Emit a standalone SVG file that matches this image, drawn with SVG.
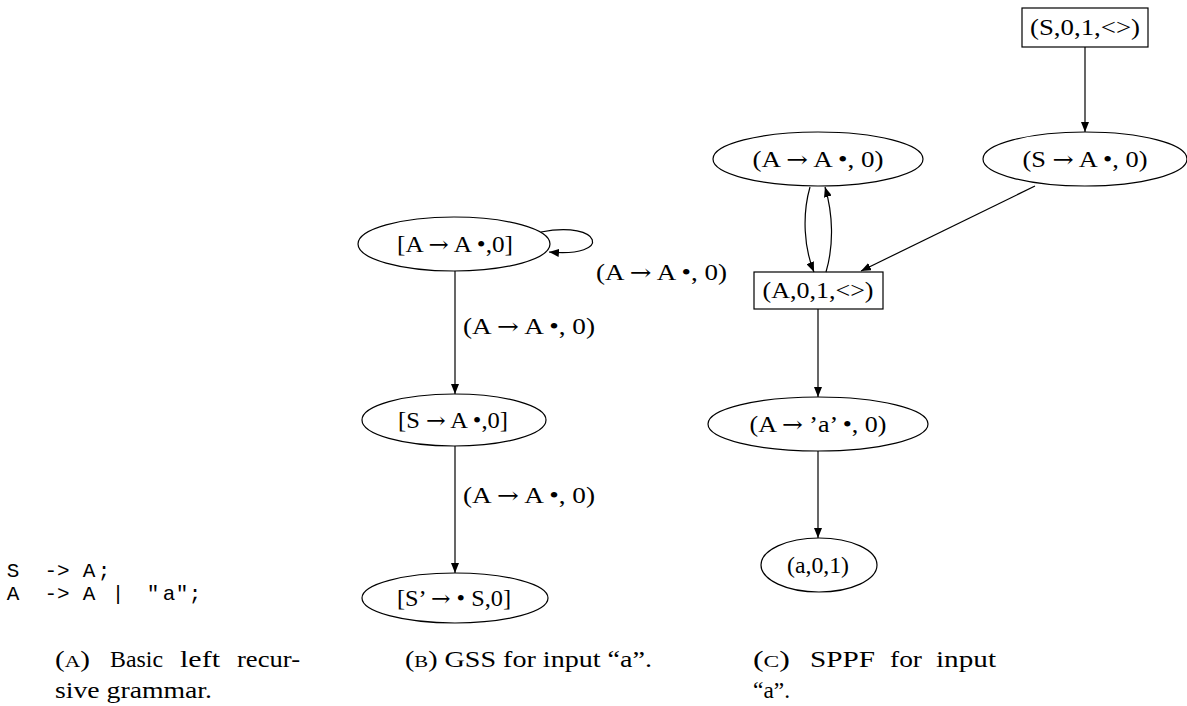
<svg xmlns="http://www.w3.org/2000/svg" width="1187" height="706" viewBox="0 0 1187 706">
  <style>
    .node { fill: #ffffff; stroke: #000000; stroke-width: 1.2; }
    .edge { fill: none; stroke: #000000; stroke-width: 1.2; }
    .lbl { font-family: "Liberation Serif", "DejaVu Serif", serif; font-size: 23px; fill: #000000; }
    .ar { font-family: "DejaVu Serif", "Liberation Serif", serif; font-size: 22px; }
    .mid { text-anchor: middle; }
    .code { font-family: "Liberation Mono", "DejaVu Sans Mono", monospace; font-size: 21px; fill: #000000; text-anchor: middle; }
    .cap { font-family: "Liberation Serif", "DejaVu Serif", serif; font-size: 23px; fill: #000000; }
    .sc { font-size: 17px; }
  </style>
  <defs>
    <marker id="arrow" viewBox="0 0 10 8" refX="10" refY="4" markerWidth="10" markerHeight="8" markerUnits="userSpaceOnUse" orient="auto">
      <path d="M0,0 L10,4 L0,8 Z" fill="#000000"/>
    </marker>
  </defs>

  <rect width="1187" height="706" fill="#ffffff"/>

  <!-- (a) grammar listing -->
  <g id="grammar">
    <text class="code" y="577"><tspan x="13">S</tspan><tspan x="57">-&gt;</tspan><tspan x="89">A</tspan><tspan x="104">;</tspan></text>
    <text class="code" y="600"><tspan x="13">A</tspan><tspan x="57">-&gt;</tspan><tspan x="89">A</tspan><tspan x="118">|</tspan><tspan x="153">"</tspan><tspan x="169">a</tspan><tspan x="182">"</tspan><tspan x="195">;</tspan></text>
  </g>

  <!-- (b) GSS nodes -->
  <g id="gss-a">
    <ellipse class="node" cx="454" cy="244" rx="96" ry="27"/>
    <text class="lbl mid" x="455" y="252" textLength="116" lengthAdjust="spacingAndGlyphs">[A <tspan class="ar">→</tspan> A •,0]</text>
  </g>
  <g id="gss-s">
    <ellipse class="node" cx="454" cy="420" rx="92" ry="26"/>
    <text class="lbl mid" x="453" y="428" textLength="110" lengthAdjust="spacingAndGlyphs">[S <tspan class="ar">→</tspan> A •,0]</text>
  </g>
  <g id="gss-start">
    <ellipse class="node" cx="455" cy="598" rx="93" ry="25"/>
    <text class="lbl mid" x="454" y="606" textLength="114" lengthAdjust="spacingAndGlyphs">[S’ <tspan class="ar">→</tspan> • S,0]</text>
  </g>

  <!-- (c) SPPF nodes -->
  <g id="sppf-s-sym">
    <rect class="node" x="1022" y="8" width="126" height="39"/>
    <text class="lbl mid" x="1085" y="35" textLength="110" lengthAdjust="spacingAndGlyphs">(S,0,1,&lt;&gt;)</text>
  </g>
  <g id="sppf-s-item">
    <ellipse class="node" cx="1085" cy="159" rx="102" ry="27"/>
    <text class="lbl mid" x="1085" y="167" textLength="125" lengthAdjust="spacingAndGlyphs">(S <tspan class="ar">→</tspan> A •, 0)</text>
  </g>
  <g id="sppf-a-item">
    <ellipse class="node" cx="818" cy="159" rx="105" ry="27"/>
    <text class="lbl mid" x="818" y="167" textLength="131" lengthAdjust="spacingAndGlyphs">(A <tspan class="ar">→</tspan> A •, 0)</text>
  </g>
  <g id="sppf-a-sym">
    <rect class="node" x="754" y="272" width="129" height="37"/>
    <text class="lbl mid" x="818" y="298" textLength="111" lengthAdjust="spacingAndGlyphs">(A,0,1,&lt;&gt;)</text>
  </g>
  <g id="sppf-a-term">
    <ellipse class="node" cx="818" cy="424" rx="110" ry="27"/>
    <text class="lbl mid" x="818" y="432" textLength="137" lengthAdjust="spacingAndGlyphs">(A <tspan class="ar">→</tspan> ’a’ •, 0)</text>
  </g>
  <g id="sppf-a-leaf">
    <ellipse class="node" cx="819" cy="565" rx="58" ry="27"/>
    <text class="lbl mid" x="818" y="573" textLength="62" lengthAdjust="spacingAndGlyphs">(a,0,1)</text>
  </g>

  <!-- connectors -->
  <g id="connectors">
    <!-- GSS -->
    <path class="edge" d="M541,232 C602,220 614,258 549,252" marker-end="url(#arrow)"/>
    <path class="edge" d="M455,271 L455,394" marker-end="url(#arrow)"/>
    <path class="edge" d="M455,446 L455,573" marker-end="url(#arrow)"/>
    <!-- SPPF -->
    <path class="edge" d="M1085,47 L1085,132" marker-end="url(#arrow)"/>
    <path class="edge" d="M810,187 C802,215 804,248 814,272" marker-end="url(#arrow)"/>
    <path class="edge" d="M826,272 C834,245 833,214 825,187" marker-end="url(#arrow)"/>
    <path class="edge" d="M1035,186 L861,271" marker-end="url(#arrow)"/>
    <path class="edge" d="M818,309 L818,397" marker-end="url(#arrow)"/>
    <path class="edge" d="M818,451 L818,538" marker-end="url(#arrow)"/>
  </g>

  <!-- edge labels -->
  <g id="edge-labels">
    <text class="lbl" x="596" y="280" textLength="131" lengthAdjust="spacingAndGlyphs">(A <tspan class="ar">→</tspan> A •, 0)</text>
    <text class="lbl" x="463" y="334" textLength="132" lengthAdjust="spacingAndGlyphs">(A <tspan class="ar">→</tspan> A •, 0)</text>
    <text class="lbl" x="463" y="503" textLength="132" lengthAdjust="spacingAndGlyphs">(A <tspan class="ar">→</tspan> A •, 0)</text>
  </g>

  <!-- captions -->
  <g id="captions">
    <text class="cap" x="55" y="667" textLength="35" lengthAdjust="spacingAndGlyphs">(<tspan class="sc">A</tspan>)</text>
    <text class="cap" x="110" y="667" textLength="53" lengthAdjust="spacingAndGlyphs">Basic</text>
    <text class="cap" x="180" y="667" textLength="40" lengthAdjust="spacingAndGlyphs">left</text>
    <text class="cap" x="237" y="667" textLength="63" lengthAdjust="spacingAndGlyphs">recur-</text>
    <text class="cap" x="55" y="698" textLength="157" lengthAdjust="spacingAndGlyphs">sive grammar.</text>
    <text class="cap" x="405" y="667" textLength="247" lengthAdjust="spacingAndGlyphs">(<tspan class="sc">B</tspan>) GSS for input “a”.</text>
    <text class="cap" x="753" y="667" textLength="37" lengthAdjust="spacingAndGlyphs">(<tspan class="sc">C</tspan>)</text>
    <text class="cap" x="810" y="667" textLength="65" lengthAdjust="spacingAndGlyphs">SPPF</text>
    <text class="cap" x="890" y="667" textLength="32" lengthAdjust="spacingAndGlyphs">for</text>
    <text class="cap" x="936" y="667" textLength="60" lengthAdjust="spacingAndGlyphs">input</text>
    <text class="cap" x="753" y="698" textLength="37" lengthAdjust="spacingAndGlyphs">“a”.</text>
  </g>
</svg>
